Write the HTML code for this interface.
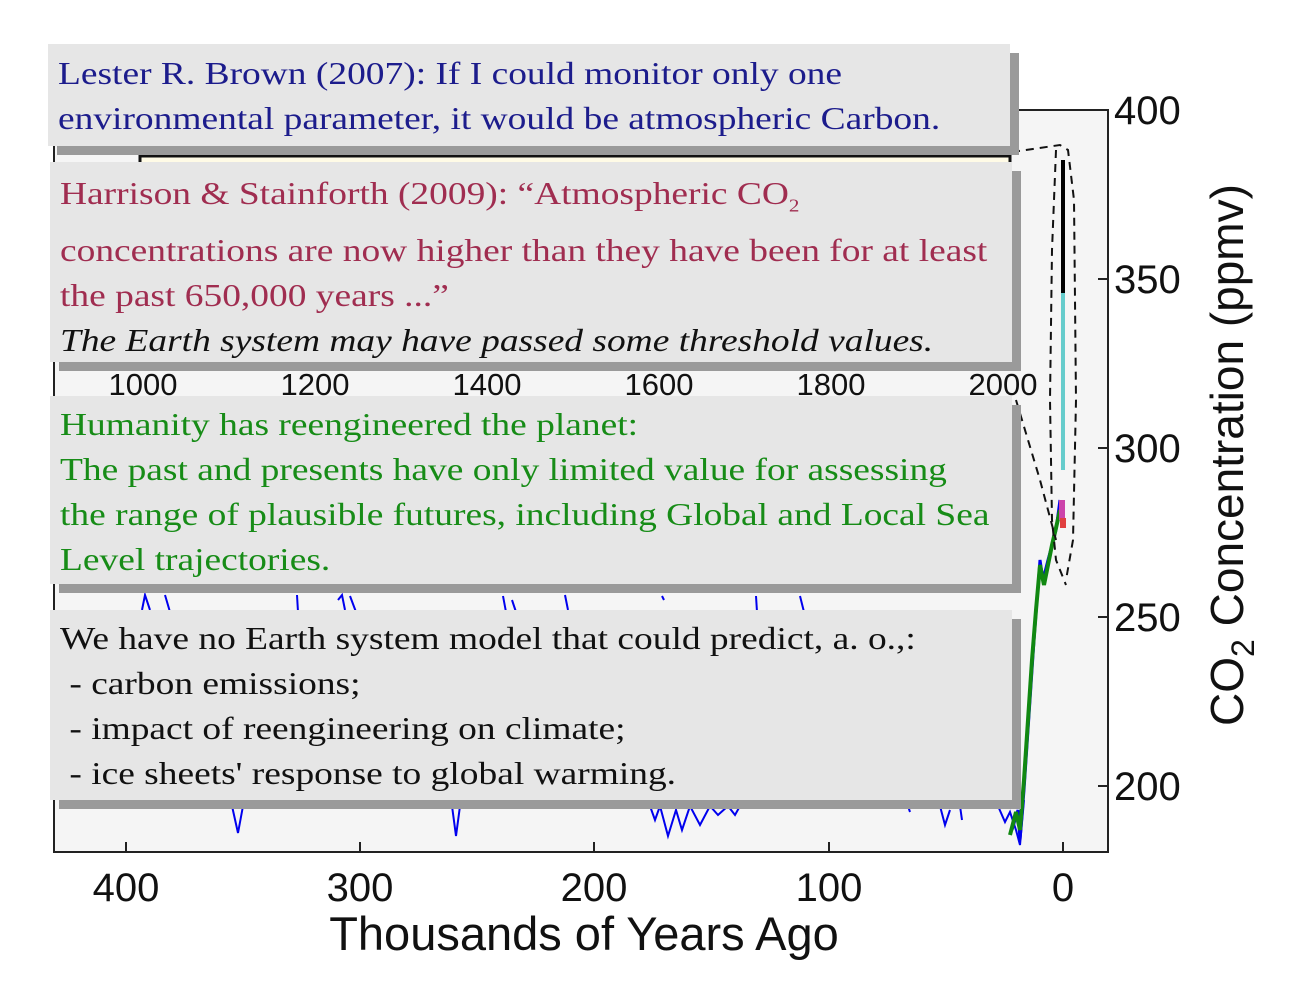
<!DOCTYPE html>
<html><head><meta charset="utf-8"><style>
body{margin:0;background:#fff;width:1294px;height:1000px;overflow:hidden;position:relative;font-family:"Liberation Serif",serif}
.b{position:absolute;background:#e6e6e6;box-shadow:9px 9px 0 #9a9a9a;font-size:32px;line-height:45px;padding:10px 0 0 10px;box-sizing:border-box}
.s{transform:scaleX(1.17);transform-origin:0 0;white-space:nowrap}
</style></head><body>
<svg width="1294" height="1000" style="position:absolute;left:0;top:0" font-family="Liberation Sans, sans-serif">
<rect x="54" y="110" width="1054" height="742" fill="#f5f5f5" stroke="#222" stroke-width="2"/>
<g stroke="#222" stroke-width="2">
<line x1="126" y1="852" x2="126" y2="842"/><line x1="360" y1="852" x2="360" y2="842"/><line x1="594" y1="852" x2="594" y2="842"/><line x1="829" y1="852" x2="829" y2="842"/><line x1="1063" y1="852" x2="1063" y2="842"/>
<line x1="1108" y1="279" x2="1098" y2="279"/><line x1="1108" y1="448" x2="1098" y2="448"/><line x1="1108" y1="617" x2="1098" y2="617"/><line x1="1108" y1="786" x2="1098" y2="786"/>
</g>
<g font-size="40" fill="#111" text-anchor="middle">
<text x="126" y="901">400</text><text x="360" y="901">300</text><text x="594" y="901">200</text><text x="829" y="901">100</text><text x="1063" y="901">0</text>
</g>
<text x="584" y="950" font-size="47" text-anchor="middle" fill="#111">Thousands of Years Ago</text>
<g font-size="40" fill="#111">
<text x="1114" y="124">400</text><text x="1114" y="293">350</text><text x="1114" y="462">300</text><text x="1114" y="631">250</text><text x="1114" y="800">200</text>
</g>
<text transform="translate(1243,455) rotate(-90)" font-size="46" text-anchor="middle" fill="#111">CO<tspan font-size="32" dy="11">2</tspan><tspan dy="-11"> Concentration (ppmv)</tspan></text>
<!-- inset -->
<rect x="54" y="150" width="960" height="240" fill="#f5f5f5"/>
<line x1="54" y1="150" x2="54" y2="390" stroke="#222" stroke-width="2"/>
<rect x="140" y="156" width="870" height="10" fill="#fffbe6" stroke="#111" stroke-width="3"/>
<g font-size="31" fill="#111" text-anchor="middle"><text x="143" y="395">1000</text><text x="315" y="395">1200</text><text x="487" y="395">1400</text><text x="659" y="395">1600</text><text x="831" y="395">1800</text><text x="1003" y="395">2000</text></g>
<g stroke="#0000ee" stroke-width="2" fill="none">
<path d="M142 610 L145 595 L150 610 M165 595 L170 612 M297 595 L298 612 M338 600 L342 595 L345 610 M350 596 L356 612 M503 596 L506 612 M512 600 L516 612 M565 595 L568 610 M662 596 L664 600 M756 596 L757 612 M800 596 L804 612"/>
<path d="M232 806 L238 833 L243 806 M452 806 L456 836 L460 806 M650 806 L655 820 L660 806 L668 836 L676 810 L682 830 L690 806 L700 825 L710 806 L718 815 L728 806 L735 815 L740 806 M908 806 L910 812 M940 806 L945 825 L950 810 M960 806 L962 820 M998 806 L1005 822 L1010 812 L1016 830 L1020 845 L1024 800"/>
</g>
<path d="M1012 830 L1018 810 L1020 840 L1024 790 L1030 700 L1034 640 L1037 600 L1040 560 L1043 580 L1048 560 L1052 545 L1056 530 L1060 500" stroke="#0000ee" stroke-width="3" fill="none"/>
<path d="M1010 835 L1016 812 L1020 830 L1024 780 L1028 720 L1032 660 L1036 610 L1040 565 L1044 585 L1048 565 L1052 545 L1056 528 L1060 510" stroke="#118811" stroke-width="4" fill="none"/>
<line x1="1063" y1="160" x2="1063" y2="293" stroke="#000" stroke-width="4"/>
<line x1="1063" y1="293" x2="1063" y2="470" stroke="#66cccc" stroke-width="4"/>
<rect x="1059" y="500" width="6" height="20" fill="#cc44aa"/><rect x="1060" y="518" width="6" height="10" fill="#e04040"/>
<g stroke="#111" stroke-width="2" stroke-dasharray="8,6" fill="none">
<path d="M1012 152 L1060 145 L1068 150 L1074 200 L1076 400 L1073 540 L1066 580"/>
<path d="M1056 150 L1052 250 L1050 400 L1052 520 L1056 560 L1066 585"/>
<path d="M1016 400 L1040 480 L1056 540"/>
</g>
</svg>
<div class="b" style="left:48px;top:44px;width:962px;height:102px;color:#1c1c8c;padding-top:7px"><div class="s">Lester R. Brown (2007): If I could monitor only one<br>environmental parameter, it would be atmospheric Carbon.</div></div>
<div class="b" style="left:50px;top:162px;width:962px;height:200px;color:#a02d50;padding-top:9px"><div class="s">Harrison &amp; Stainforth (2009): “Atmospheric CO<sub style="font-size:18px">2</sub><br>concentrations are now higher than they have been for at least<br>the past 650,000 years ...”<br><i style="color:#111">The Earth system may have passed some threshold values.</i></div></div>
<div class="b" style="left:50px;top:396px;width:962px;height:188px;color:#178c17;padding-top:6px"><div class="s">Humanity has reengineered the planet:<br>The past and presents have only limited value for assessing<br>the range of plausible futures, including Global and Local Sea<br>Level trajectories.</div></div>
<div class="b" style="left:50px;top:610px;width:962px;height:190px;color:#111;padding-top:6px"><div class="s">We have no Earth system model that could predict, a. o.,:<br>&nbsp;- carbon emissions;<br>&nbsp;- impact of reengineering on climate;<br>&nbsp;- ice sheets' response to global warming.</div></div>
</body></html>
